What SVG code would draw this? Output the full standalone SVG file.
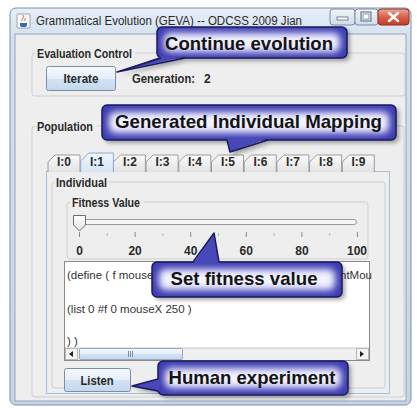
<svg xmlns="http://www.w3.org/2000/svg" width="417" height="408" viewBox="0 0 417 408">
<defs>
  <linearGradient id="frameGrad" x1="0" y1="0" x2="0" y2="1">
    <stop offset="0" stop-color="#e6eef7"/>
    <stop offset="0.08" stop-color="#d4e0ee"/>
    <stop offset="1" stop-color="#c6d5e6"/>
  </linearGradient>
  <linearGradient id="btnGrad" x1="0" y1="0" x2="0" y2="1">
    <stop offset="0" stop-color="#f5f9fd"/>
    <stop offset="0.5" stop-color="#e4eef9"/>
    <stop offset="0.52" stop-color="#d3e3f4"/>
    <stop offset="1" stop-color="#c3d7ed"/>
  </linearGradient>
  <linearGradient id="tabGrad" x1="0" y1="0" x2="0" y2="1">
    <stop offset="0" stop-color="#fbfbfb"/>
    <stop offset="1" stop-color="#e2e2e2"/>
  </linearGradient>
  <linearGradient id="selTabGrad" x1="0" y1="0" x2="0" y2="1">
    <stop offset="0" stop-color="#eef5fc"/>
    <stop offset="1" stop-color="#d5e5f5"/>
  </linearGradient>
  <linearGradient id="capGrad" x1="0" y1="0" x2="0" y2="1">
    <stop offset="0" stop-color="#f3f6fa"/>
    <stop offset="0.5" stop-color="#e0e8f1"/>
    <stop offset="1" stop-color="#cfdbe8"/>
  </linearGradient>
  <linearGradient id="closeGrad" x1="0" y1="0" x2="0" y2="1">
    <stop offset="0" stop-color="#eea797"/>
    <stop offset="0.5" stop-color="#d9604b"/>
    <stop offset="1" stop-color="#c43a27"/>
  </linearGradient>
  <linearGradient id="thumbGrad" x1="0" y1="0" x2="0" y2="1">
    <stop offset="0" stop-color="#ffffff"/>
    <stop offset="1" stop-color="#dfe3e8"/>
  </linearGradient>
  <filter id="glow" x="-20%" y="-50%" width="140%" height="200%">
    <feGaussianBlur stdDeviation="3.5"/>
  </filter>
  <filter id="shadow" x="-10%" y="-30%" width="130%" height="180%">
    <feGaussianBlur stdDeviation="2"/>
  </filter>
  <style>
    .ui{font-family:"Liberation Sans",Arial,sans-serif;font-size:12px;fill:#2a2a2a}
    .b{font-weight:bold}
    .mid{text-anchor:middle}
    .grp{fill:none;stroke:#cfcfcf;stroke-width:1}
    .lblbg{fill:#eeeeee}
    .btn{fill:url(#btnGrad);stroke:#7d8ea3;stroke-width:1}
    .tab{fill:url(#tabGrad);stroke:#9c9c9c;stroke-width:1}
    .tick{stroke:#8a8a8a;stroke-width:1}
    .mtick{stroke:#b8b8b8;stroke-width:1}
    .code{font-family:"Liberation Sans",Arial,sans-serif;font-size:11.5px;fill:#333}
    .cshadow{fill:#000;opacity:.35;filter:url(#shadow)}
    .cbody{fill:#3d3db3}
    .cglow{fill:#f1f1ff;filter:url(#glow)}
    .cedge{fill:none;stroke:#1a1a5e;stroke-width:1.5}
    .ctext{font-family:"Liberation Sans",Arial,sans-serif;font-weight:bold;font-size:19px;fill:#141414;text-anchor:middle}
    .wfill{fill:#4848b9}
    .wline{fill:none;stroke:#1a1a5e;stroke-width:1.5;stroke-linejoin:round}
  </style>
</defs>

<rect width="417" height="408" fill="#ffffff"/>

<!-- window frame and title bar -->
<g id="window">
  <rect x="10" y="8" width="401" height="397" rx="6" fill="url(#frameGrad)" stroke="#7f8fa3"/>
  <rect x="15" y="34" width="391" height="367" fill="#eeeeee" stroke="#91a5bb"/>
  <!-- application icon -->
  <rect x="17" y="14" width="13" height="14" rx="1" fill="#f7f9fc" stroke="#9aa6b4"/>
  <path d="M20,23 h7 v2 a3,2 0 0 1 -3,2 h-1 a3,2 0 0 1 -3,-2 z" fill="#3a68b0"/>
  <path d="M22,21 q-1,-2 1,-3 q1,-1 0,-3 M25,21 q-1,-2 1,-3" fill="none" stroke="#e0702a" stroke-width="1"/>
  <text class="ui" x="36" y="25" textLength="266" lengthAdjust="spacingAndGlyphs">Grammatical Evolution (GEVA) -- ODCSS 2009 Jian</text>
  <!-- caption buttons -->
  <rect x="330" y="9" width="25" height="16" rx="3" fill="url(#capGrad)" stroke="#7b8ca1"/>
  <rect x="337" y="17" width="11" height="3" fill="#ffffff" stroke="#5a6a7e" stroke-width="0.8"/>
  <rect x="355" y="9" width="23" height="16" rx="3" fill="url(#capGrad)" stroke="#7b8ca1"/>
  <rect x="361" y="12" width="10" height="9" fill="none" stroke="#5a6a7e" stroke-width="1"/>
  <rect x="363" y="14" width="6" height="5" fill="#ffffff" stroke="#5a6a7e" stroke-width="0.6"/>
  <rect x="378" y="9" width="31" height="16" rx="3" fill="url(#closeGrad)" stroke="#8a3326"/>
  <path d="M389,13 L398,21 M398,13 L389,21" stroke="#ffffff" stroke-width="2.4" stroke-linecap="round"/>
</g>

<!-- evaluation control panel -->
<g id="evaluation-control">
  <rect class="grp" x="32" y="53" width="373" height="43" rx="3"/>
  <rect class="lblbg" x="35" y="47" width="100" height="12"/>
  <text class="ui b" x="37" y="58" textLength="95" lengthAdjust="spacingAndGlyphs">Evaluation Control</text>
</g>
<g id="iterate-button">
  <rect class="btn" x="46.5" y="66.5" width="69" height="24" rx="2"/>
  <text class="ui b mid" x="81" y="83" textLength="35" lengthAdjust="spacingAndGlyphs">Iterate</text>
</g>
<g id="generation-label">
  <text class="ui b" x="132" y="83" textLength="63" lengthAdjust="spacingAndGlyphs">Generation:</text>
  <text class="ui b" x="204" y="83">2</text>
</g>

<!-- population panel -->
<g id="population">
  <rect class="grp" x="32" y="126" width="372" height="271" rx="3"/>
  <rect class="lblbg" x="35" y="120" width="62" height="12"/>
  <text class="ui b" x="37" y="131" textLength="56" lengthAdjust="spacingAndGlyphs">Population</text>
</g>

<!-- tab strip -->
<g id="tabs">
  <rect x="46.5" y="171.5" width="343" height="222" fill="#eeeeee" stroke="#a6bfdc"/>
  <path class="tab" d="M48,172 V162 L55,155 H80 V172"/>
  <path class="tab" d="M113.4,172 V162 L120.4,155 H145.4 V172"/>
  <path class="tab" d="M146.1,172 V162 L153.1,155 H178.1 V172"/>
  <path class="tab" d="M178.8,172 V162 L185.8,155 H210.8 V172"/>
  <path class="tab" d="M211.5,172 V162 L218.5,155 H243.5 V172"/>
  <path class="tab" d="M244.2,172 V162 L251.2,155 H276.2 V172"/>
  <path class="tab" d="M276.9,172 V162 L283.9,155 H308.9 V172"/>
  <path class="tab" d="M309.6,172 V162 L316.6,155 H341.6 V172"/>
  <path class="tab" d="M342.3,172 V162 L349.3,155 H374.3 V172"/>
  <!-- selected tab -->
  <path d="M80.7,172.5 V161 L88.7,153 H113.4 V172.5 Z" fill="url(#selTabGrad)"/>
  <path d="M80.7,172 V161 L88.7,153 H113.4 V172" fill="none" stroke="#8fabcc"/>
  <g class="ui b mid" font-size="11.5">
    <text x="64" y="166">I:0</text>
    <text x="97" y="166">I:1</text>
    <text x="130" y="166">I:2</text>
    <text x="162.5" y="166">I:3</text>
    <text x="195" y="166">I:4</text>
    <text x="228" y="166">I:5</text>
    <text x="260.5" y="166">I:6</text>
    <text x="293" y="166">I:7</text>
    <text x="326" y="166">I:8</text>
    <text x="358.5" y="166">I:9</text>
  </g>
</g>

<!-- individual panel -->
<g id="individual">
  <rect class="grp" x="52" y="182" width="333" height="206" rx="3"/>
  <rect class="lblbg" x="54" y="176" width="55" height="12"/>
  <text class="ui b" x="56" y="187" textLength="51" lengthAdjust="spacingAndGlyphs">Individual</text>
</g>

<!-- fitness slider -->
<g id="fitness-value">
  <rect class="grp" x="67" y="202" width="301" height="57" rx="3"/>
  <rect class="lblbg" x="70" y="196" width="74" height="12"/>
  <text class="ui b" x="72" y="207" textLength="68" lengthAdjust="spacingAndGlyphs">Fitness Value</text>
  <rect x="75.5" y="219.5" width="281" height="5" rx="2.5" fill="#f6f6f6" stroke="#9a9a9a"/>
  <path d="M73.5,215.5 H85.5 V225 L79.5,231 L73.5,225 Z" fill="url(#thumbGrad)" stroke="#6f6f6f"/>
  <g>
    <line class="tick" x1="79.5" y1="232" x2="79.5" y2="237"/>
    <line class="mtick" x1="107.3" y1="233" x2="107.3" y2="236"/>
    <line class="tick" x1="135.1" y1="232" x2="135.1" y2="237"/>
    <line class="mtick" x1="162.9" y1="233" x2="162.9" y2="236"/>
    <line class="tick" x1="190.7" y1="232" x2="190.7" y2="237"/>
    <line class="mtick" x1="218.5" y1="233" x2="218.5" y2="236"/>
    <line class="tick" x1="246.3" y1="232" x2="246.3" y2="237"/>
    <line class="mtick" x1="274.1" y1="233" x2="274.1" y2="236"/>
    <line class="tick" x1="301.9" y1="232" x2="301.9" y2="237"/>
    <line class="mtick" x1="329.7" y1="233" x2="329.7" y2="236"/>
    <line class="tick" x1="357.5" y1="232" x2="357.5" y2="237"/>
  </g>
  <g class="ui b mid">
    <text x="79.5" y="255">0</text>
    <text x="135.1" y="255">20</text>
    <text x="190.7" y="255">40</text>
    <text x="246.3" y="255">60</text>
    <text x="301.9" y="255">80</text>
    <text x="357" y="255">100</text>
  </g>
</g>

<!-- code text area with horizontal scrollbar -->
<g id="code-area">
  <rect x="64.5" y="261.5" width="305" height="99" fill="#ffffff" stroke="#8a8a8a"/>
  <text class="code" x="67" y="279">(define ( f mouse</text>
  <text class="code" x="340" y="279">ntMou</text>
  <text class="code" x="67" y="313">(list 0 #f 0 mouseX 250 )</text>
  <text class="code" x="67" y="345">) )</text>
  <rect x="65" y="348" width="304" height="12" fill="#f0f0f0"/>
  <line x1="65" y1="348" x2="369" y2="348" stroke="#c8c8c8"/>
  <rect x="65.5" y="348.5" width="12" height="11" fill="#f4f4f4" stroke="#b8b8b8"/>
  <path d="M69,354 L73,351 V357 Z" fill="#222"/>
  <rect x="79.5" y="348.5" width="103" height="11" rx="1" fill="url(#btnGrad)" stroke="#9aa8b8"/>
  <path d="M128.5,351 V357 M130.5,351 V357 M132.5,351 V357" stroke="#7f8c9c" stroke-width="1"/>
  <rect x="356.5" y="348.5" width="12" height="11" fill="#f4f4f4" stroke="#b8b8b8"/>
  <path d="M364,354 L360,351 V357 Z" fill="#222"/>
</g>

<g id="listen-button">
  <rect class="btn" x="64.5" y="368.5" width="66" height="23" rx="2"/>
  <text class="ui b mid" x="97" y="385" textLength="33" lengthAdjust="spacingAndGlyphs">Listen</text>
</g>

<!-- callout: continue evolution -->
<g id="callout-continue">
  <path class="cshadow" d="M163,61 L120,75 L188,61 Z"/>
  <rect class="cshadow" x="160" y="30" width="190" height="31" rx="5"/>
  <rect class="cbody" x="157" y="27" width="190" height="31" rx="5"/>
  <rect class="cglow" x="164" y="33" width="176" height="19" rx="6"/>
  <rect class="cedge" x="157" y="27" width="190" height="31" rx="5"/>
  <text class="ctext" x="249" y="50" textLength="168" lengthAdjust="spacingAndGlyphs">Continue evolution</text>
</g>

<!-- callout: generated individual mapping -->
<g id="callout-mapping">
  <path class="cshadow" d="M230,143 L233,155 L271,143 Z"/>
  <rect class="cshadow" x="105" y="108" width="294" height="35" rx="5"/>
  <rect class="cbody" x="102" y="105" width="294" height="35" rx="5"/>
  <rect class="cglow" x="109" y="112" width="280" height="21" rx="6"/>
  <rect class="cedge" x="102" y="105" width="294" height="35" rx="5"/>
  <text class="ctext" x="248.5" y="128" font-size="20" textLength="267" lengthAdjust="spacingAndGlyphs">Generated Individual Mapping</text>
</g>

<!-- callout: set fitness value -->
<g id="callout-fitness">
  <rect class="cshadow" x="155" y="265" width="190" height="35" rx="5"/>
  <rect class="cbody" x="152" y="262" width="190" height="35" rx="5"/>
  <rect class="cglow" x="159" y="269" width="176" height="21" rx="6"/>
  <rect class="cedge" x="152" y="262" width="190" height="35" rx="5"/>
  <text class="ctext" x="244" y="285" textLength="147" lengthAdjust="spacingAndGlyphs">Set fitness value</text>
</g>

<!-- callout: human experiment -->
<g id="callout-human">
  <path class="cshadow" d="M161,383 L135,389 L161,394 Z"/>
  <rect class="cshadow" x="161" y="364" width="190" height="34" rx="5"/>
  <rect class="cbody" x="158" y="361" width="190" height="34" rx="5"/>
  <rect class="cglow" x="165" y="368" width="176" height="20" rx="6"/>
  <rect class="cedge" x="158" y="361" width="190" height="34" rx="5"/>
  <text class="ctext" x="252" y="384" textLength="167" lengthAdjust="spacingAndGlyphs">Human experiment</text>
</g>

<!-- callout pointers -->
<g id="connectors">
  <path class="wfill" d="M161,56.5 L117,72 L186,56.5 Z"/>
  <path class="wline" d="M161,58 L117,72 L185,58"/>
  <path class="wfill" d="M227,138.5 L230,152 L268,138.5 Z"/>
  <path class="wline" d="M227,140 L230,152 L268,140"/>
  <path class="wfill" d="M193,263.5 L214,233 L219,263.5 Z"/>
  <path class="wline" d="M193,262 L214,233 L219,262"/>
  <path class="wfill" d="M159.5,379 L132,386 L159.5,391 Z"/>
  <path class="wline" d="M158,379 L132,386 L158,391"/>
</g>
</svg>
